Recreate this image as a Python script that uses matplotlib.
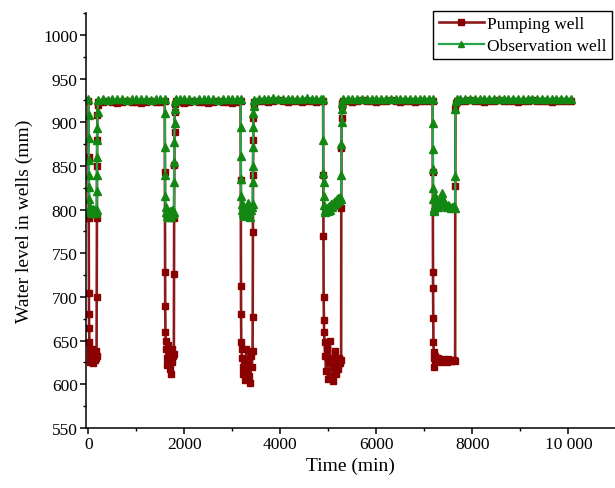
import matplotlib
matplotlib.use('Agg')
import matplotlib.pyplot as plt
from matplotlib.ticker import MultipleLocator, FuncFormatter
import numpy as np

plt.rcParams['font.family'] = ['Liberation Serif', 'DejaVu Serif']

# time (min) of every reading, grouped by pumping cycle / recovery stretch
time = [
    # cycle 1
    0, 3, 6, 9, 12, 16, 20, 25, 30, 40, 50, 60, 75, 90, 105, 120, 135, 150, 160, 170,
    173, 176, 179, 182, 186, 190, 200,
    # rest
    300, 400, 500, 600, 700, 800, 900, 1000, 1100, 1200, 1300, 1400, 1500,
    # cycle 2
    1590, 1593, 1596, 1600, 1605, 1610, 1620, 1630, 1645, 1660, 1675, 1690, 1705, 1720, 1735, 1750, 1765, 1780,
    1783, 1786, 1790, 1794, 1798, 1805, 1815,
    # rest
    1900, 2000, 2100, 2200, 2300, 2400, 2500, 2600, 2700, 2800, 2900, 3000, 3100,
    # cycle 3
    3170, 3173, 3176, 3180, 3185, 3190, 3200, 3215, 3230, 3250, 3270, 3290, 3310, 3330, 3350, 3370, 3390, 3405, 3420,
    3423, 3426, 3430, 3434, 3438, 3445, 3460,
    # rest
    3550, 3650, 3750, 3850, 3950, 4050, 4150, 4250, 4350, 4450, 4550, 4650, 4750, 4850,
    # cycle 4
    4890, 4893, 4896, 4900, 4905, 4910, 4920, 4935, 4950, 4970, 4990, 5010, 5030, 5050, 5070, 5090, 5110, 5130,
    5150, 5170, 5190, 5210, 5230, 5250, 5265,
    5268, 5272, 5276, 5280, 5290, 5310,
    # rest
    5400, 5500, 5600, 5700, 5800, 5900, 6000, 6100, 6200, 6300, 6400, 6500, 6600, 6700, 6800, 6900, 7000, 7100,
    # cycle 5
    7170, 7173, 7176, 7180, 7184, 7188, 7193, 7198, 7205, 7215, 7230, 7250, 7280, 7310, 7340, 7370, 7400, 7430,
    7460, 7490, 7520, 7550, 7580, 7610, 7640,
    7643, 7647, 7655, 7670,
    # rest
    7750, 7850, 7950, 8050, 8150, 8250, 8350, 8450, 8550, 8650, 8750, 8850, 8950, 9050, 9150, 9250, 9350, 9450,
    9550, 9650, 9750, 9850, 9950, 10050,
]

pumping = [
    924, 860, 790, 705, 680, 665, 648, 640, 632, 625, 636, 628, 640, 630, 624, 635, 628, 638, 630, 632,
    700, 790, 850, 880, 908, 920, 923,
    923, 924, 923, 922, 923, 924, 923, 923, 922, 923, 924, 923, 923,
    924, 843, 729, 690, 660, 650, 640, 630, 622, 645, 635, 618, 628, 612, 640, 625, 632, 635,
    726, 790, 851, 889, 912, 921, 924,
    923, 922, 923, 924, 923, 923, 922, 923, 924, 923, 923, 922, 923,
    924, 834, 712, 680, 648, 640, 630, 620, 612, 628, 605, 640, 618, 625, 610, 602, 632, 620, 638,
    677, 774, 840, 880, 905, 918, 923,
    924, 924, 923, 924, 925, 924, 923, 924, 924, 923, 924, 924, 923, 924,
    924, 840, 770, 700, 674, 660, 648, 632, 615, 640, 606, 625, 650, 610, 630, 604, 620, 638,
    612, 628, 618, 622, 630, 624, 628,
    802, 870, 905, 918, 922, 924,
    924, 923, 924, 925, 924, 924, 923, 924, 924, 925, 924, 923, 924, 924, 923, 924, 924, 924,
    924, 843, 728, 710, 676, 648, 637, 630, 620, 632, 628, 627, 630, 628, 626, 629, 627, 628,
    626, 629, 627, 628, 627, 628, 627,
    827, 915, 922, 924,
    924, 924, 925, 924, 924, 923, 924, 924, 925, 924, 924, 924, 923, 924, 924, 925, 924, 924,
    924, 923, 924, 924, 924, 924,
]

observation = [
    926, 908, 882, 857, 840, 826, 812, 803, 799, 797, 800, 798, 796, 799, 801, 797, 799, 796, 798, 800,
    821, 840, 860, 880, 893, 912, 925,
    926, 925, 926, 927, 926, 925, 926, 926, 927, 926, 925, 926, 926,
    926, 911, 872, 840, 815, 803, 797, 793, 796, 791, 797, 794, 798, 792, 796, 799, 795, 797,
    831, 855, 877, 899, 915, 924, 926,
    926, 927, 926, 925, 926, 926, 927, 926, 925, 926, 926, 927, 926,
    926, 895, 861, 835, 815, 806, 800, 796, 805, 793, 798, 801, 795, 808, 797, 792, 800, 803, 806,
    832, 850, 872, 895, 910, 918, 925,
    927, 926, 927, 928, 927, 926, 927, 927, 926, 927, 928, 927, 926, 927,
    926, 880, 842, 831, 815, 805, 800, 797, 799, 802, 798, 804, 800, 806, 803, 808, 805, 810,
    807, 812, 810, 813, 811, 814, 812,
    840, 875, 900, 915, 922, 926,
    927, 926, 927, 927, 926, 927, 927, 926, 927, 927, 926, 927, 927, 926, 927, 927, 926, 927,
    926, 899, 869, 846, 825, 812, 802, 798, 800, 805, 815, 808, 803, 806, 812, 819, 810, 805,
    803, 805, 804, 802, 803, 804, 802,
    838, 915, 924, 926,
    927, 926, 927, 927, 926, 927, 927, 926, 927, 927, 926, 927, 927, 926, 927, 927, 926, 927,
    927, 926, 927, 927, 926, 927,
]

t = np.array(time)
h_pump = np.array(pumping)
h_obs = np.array(observation)

fig = plt.figure(figsize=(6.15, 4.89), dpi=100)
ax = fig.add_axes([86/615., 1-429/489., 529/615., 415/489.])

ax.plot(t, h_pump, color='#8b1a1a', linewidth=1.9, marker='s', markersize=4.6,
        markerfacecolor='#8b0000', markeredgecolor='#8b0000', label='Pumping well')
ax.plot(t, h_obs, color='#28a44a', linewidth=1.6, marker='^', markersize=5.6,
        markerfacecolor='#128812', markeredgecolor='#128812', label='Observation well')

ax.set_xlim(-50, 10970)
ax.set_ylim(550, 1025)
ax.xaxis.set_major_locator(MultipleLocator(2000))
ax.xaxis.set_minor_locator(MultipleLocator(1000))
ax.yaxis.set_major_locator(MultipleLocator(50))
ax.yaxis.set_minor_locator(MultipleLocator(25))

def fmt_x(v, pos):
    v = int(round(v))
    if v >= 10000:
        return '{:,}'.format(v).replace(',', ' ')
    return str(v)
ax.xaxis.set_major_formatter(FuncFormatter(fmt_x))

for s in ['top', 'right']:
    ax.spines[s].set_visible(False)
for s in ['left', 'bottom']:
    ax.spines[s].set_linewidth(1.1)
ax.tick_params('both', which='major', direction='out', length=4, width=1.1, labelsize=12.5, pad=2)
ax.tick_params('both', which='minor', direction='out', length=2.5, width=1.0)

ax.set_xlabel('Time (min)', fontsize=14, labelpad=3)
ax.set_ylabel('Water level in wells (mm)', fontsize=14, labelpad=7)

leg = fig.legend(loc='upper right', bbox_to_anchor=(612/615., 1-12/489.), fontsize=12.5,
                 fancybox=False, framealpha=1, edgecolor='black', handlelength=2.6,
                 handletextpad=0.2, borderpad=0.3, labelspacing=0.3, borderaxespad=0,
                 markerscale=0.8)
leg.get_frame().set_linewidth(1.0)

fig.savefig('out.png', dpi=100)
